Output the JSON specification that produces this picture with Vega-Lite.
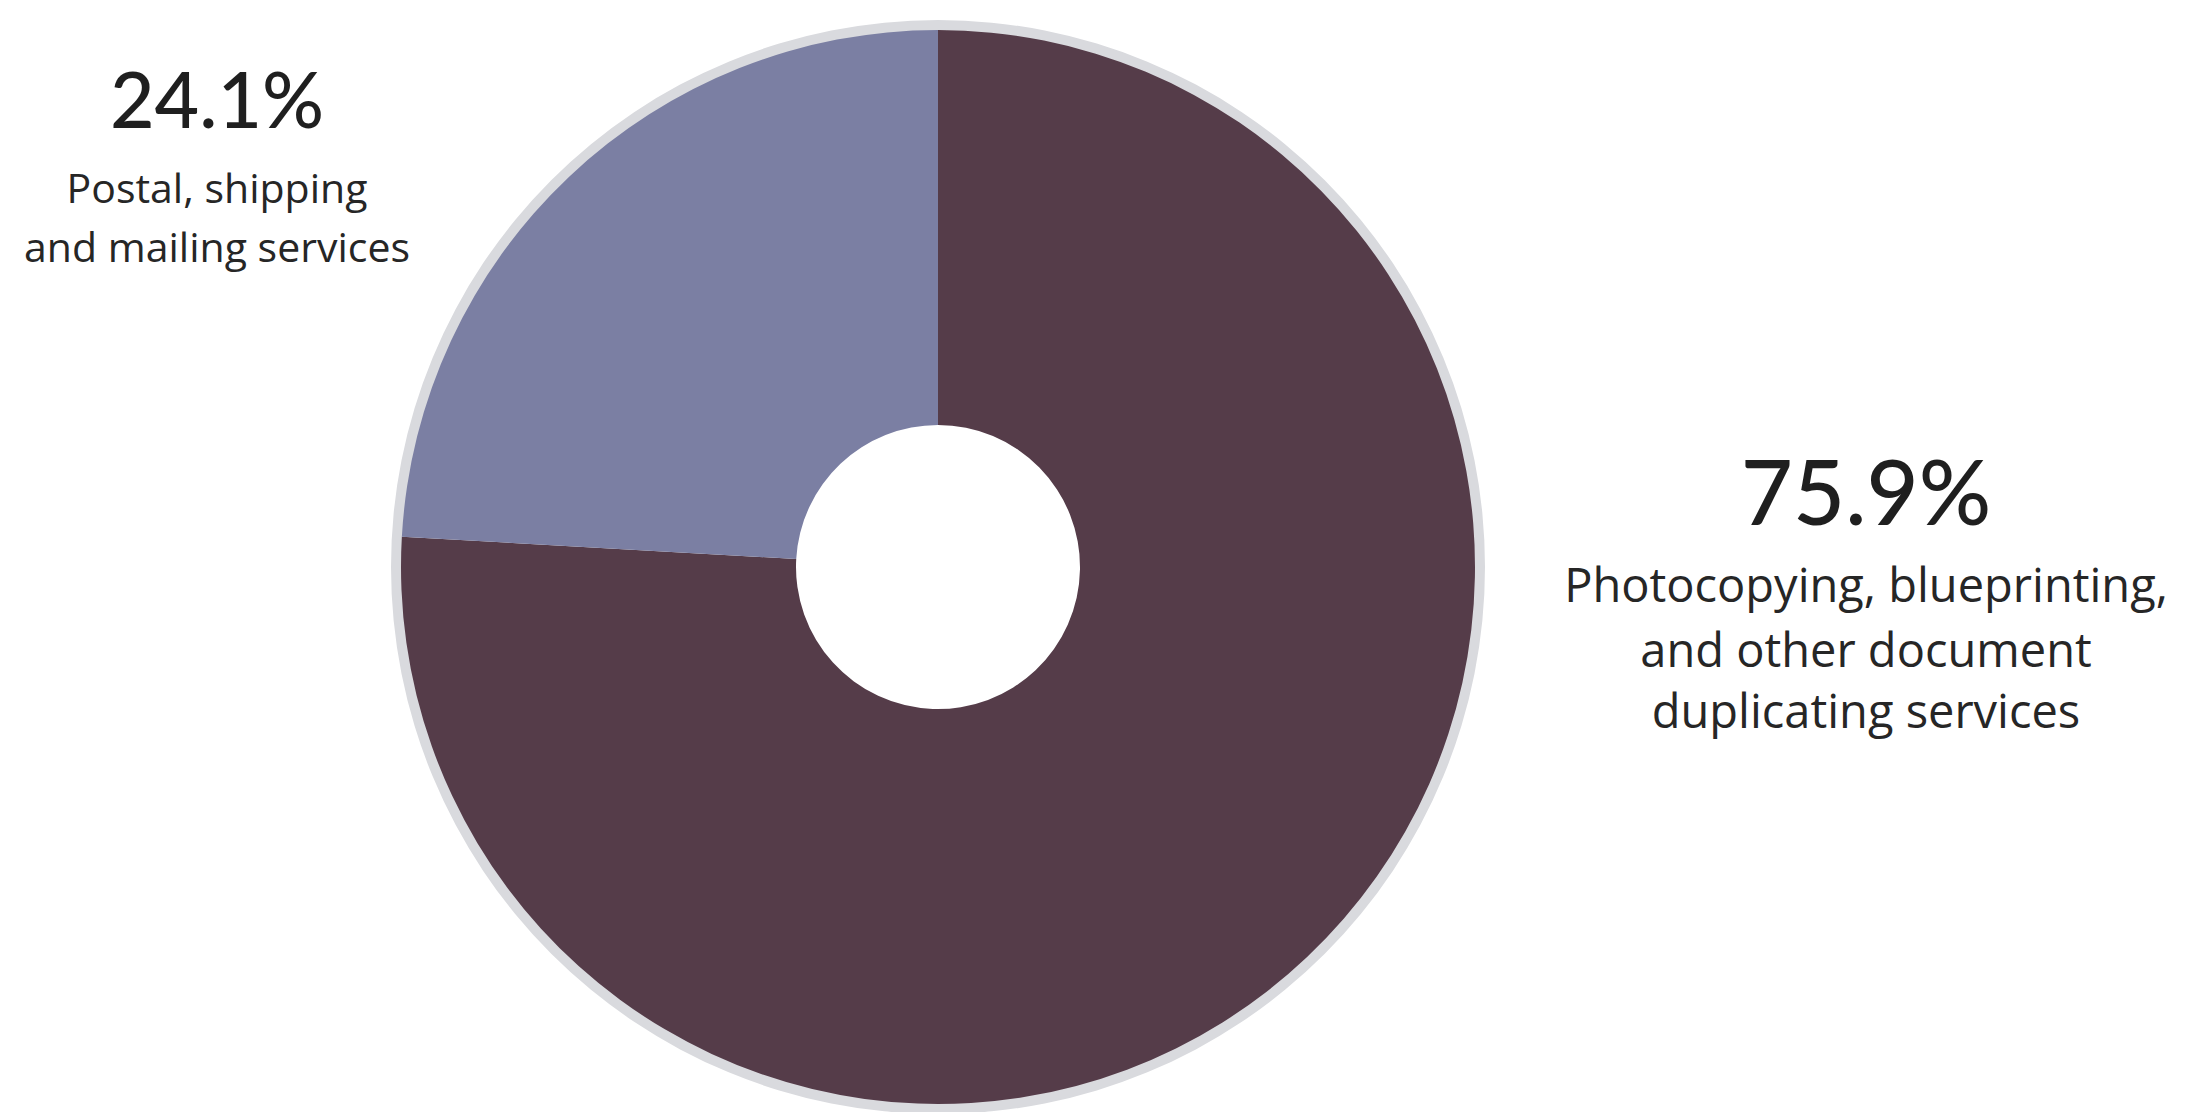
{
  "$schema": "https://vega.github.io/schema/vega-lite/v6.json",
  "width": 1876,
  "height": 1090,
  "autosize": {"type": "none"},
  "padding": {"left": 0, "top": 22, "right": 314, "bottom": 0},
  "background": "white",
  "config": {"view": {"stroke": null}},
  "datasets": {
    "slices": [
      {"category": "Photocopying, blueprinting, and other document duplicating services", "share": 75.9, "order": 1},
      {"category": "Postal, shipping and mailing services", "share": 24.1, "order": 2}
    ],
    "labels": [
      {"line": "24.1%", "kind": "percent", "side": "left", "px": -1.3426, "py": 0.8175},
      {"line": "Postal, shipping", "kind": "desc", "side": "left", "px": -1.3426, "py": 0.6778},
      {"line": "and mailing services", "kind": "desc", "side": "left", "px": -1.3426, "py": 0.5680},
      {"line": "75.9%", "kind": "percent", "side": "right", "px": 1.7281, "py": 0.0782},
      {"line": "Photocopying, blueprinting,", "kind": "desc", "side": "right", "px": 1.7281, "py": -0.0652},
      {"line": "and other document", "kind": "desc", "side": "right", "px": 1.7281, "py": -0.1862},
      {"line": "duplicating services", "kind": "desc", "side": "right", "px": 1.7281, "py": -0.2998}
    ]
  },
  "layer": [
    {
      "data": {"values": [{"ring": "outline"}]},
      "mark": {"type": "arc", "theta": 0, "theta2": 6.2832, "outerRadius": 547, "innerRadius": 530, "color": "#d9dade"},
      "encoding": {}
    },
    {
      "data": {"name": "slices"},
      "mark": {"type": "arc", "outerRadius": 537, "innerRadius": 142},
      "encoding": {
        "theta": {"field": "share", "type": "quantitative", "stack": true},
        "order": {"field": "order", "type": "ordinal"},
        "color": {
          "field": "category",
          "type": "nominal",
          "scale": {
            "domain": ["Photocopying, blueprinting, and other document duplicating services", "Postal, shipping and mailing services"],
            "range": ["#553c49", "#7b7fa3"]
          },
          "legend": null
        }
      }
    },
    {
      "data": {"name": "labels"},
      "transform": [{"filter": "datum.kind === 'percent' && datum.side === 'left'"}],
      "mark": {"type": "text", "font": "Lato", "fontSize": 77, "fontWeight": 500, "color": "#1f1f1f", "align": "center", "baseline": "alphabetic"},
      "encoding": {
        "x": {"field": "px", "type": "quantitative", "scale": {"domain": [-1.7467, 1.7467], "nice": false, "zero": false}, "axis": null},
        "y": {"field": "py", "type": "quantitative", "scale": {"domain": [-1.0149, 1.0149], "nice": false, "zero": false}, "axis": null},
        "text": {"field": "line", "type": "nominal"}
      }
    },
    {
      "data": {"name": "labels"},
      "transform": [{"filter": "datum.kind === 'percent' && datum.side === 'right'"}],
      "mark": {"type": "text", "font": "Lato", "fontSize": 90, "fontWeight": 500, "color": "#1f1f1f", "align": "center", "baseline": "alphabetic"},
      "encoding": {
        "x": {"field": "px", "type": "quantitative", "scale": {"domain": [-1.7467, 1.7467], "nice": false, "zero": false}, "axis": null},
        "y": {"field": "py", "type": "quantitative", "scale": {"domain": [-1.0149, 1.0149], "nice": false, "zero": false}, "axis": null},
        "text": {"field": "line", "type": "nominal"}
      }
    },
    {
      "data": {"name": "labels"},
      "transform": [{"filter": "datum.kind === 'desc' && datum.side === 'left'"}],
      "mark": {"type": "text", "font": "Open Sans", "fontSize": 41, "fontWeight": 500, "color": "#262626", "align": "center", "baseline": "alphabetic"},
      "encoding": {
        "x": {"field": "px", "type": "quantitative", "scale": {"domain": [-1.7467, 1.7467], "nice": false, "zero": false}, "axis": null},
        "y": {"field": "py", "type": "quantitative", "scale": {"domain": [-1.0149, 1.0149], "nice": false, "zero": false}, "axis": null},
        "text": {"field": "line", "type": "nominal"}
      }
    },
    {
      "data": {"name": "labels"},
      "transform": [{"filter": "datum.kind === 'desc' && datum.side === 'right'"}],
      "mark": {"type": "text", "font": "Open Sans", "fontSize": 47, "fontWeight": 500, "color": "#262626", "align": "center", "baseline": "alphabetic"},
      "encoding": {
        "x": {"field": "px", "type": "quantitative", "scale": {"domain": [-1.7467, 1.7467], "nice": false, "zero": false}, "axis": null},
        "y": {"field": "py", "type": "quantitative", "scale": {"domain": [-1.0149, 1.0149], "nice": false, "zero": false}, "axis": null},
        "text": {"field": "line", "type": "nominal"}
      }
    }
  ]
}
